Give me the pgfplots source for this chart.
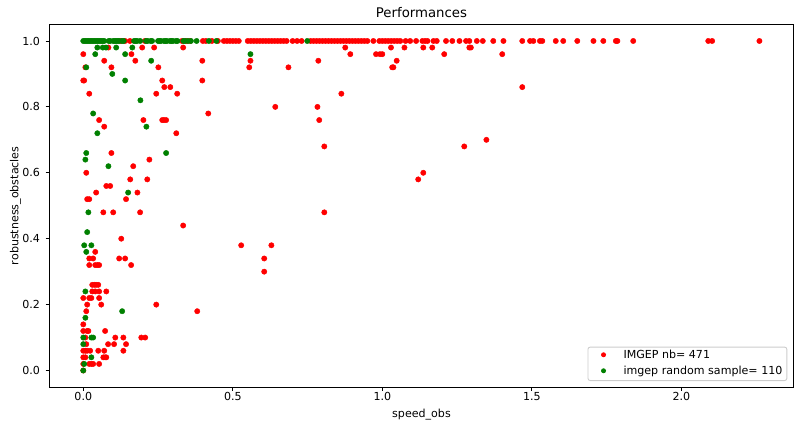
\documentclass[border=0pt]{standalone}
\usepackage{pgfplots}
\pgfplotsset{compat=1.18}
\usepackage{fontspec}
\setmainfont{DejaVu Sans}
\definecolor{mplgreen}{RGB}{0,128,0}
\definecolor{legendedge}{RGB}{204,204,204}

\begin{document}
\begin{tikzpicture}
\begin{axis}[
  scale only axis,
  width=669.6bp, height=326.25bp,
  xmin=-0.113, xmax=2.375, ymin=-0.05, ymax=1.05,
  xtick={0,0.5,1,1.5,2}, xticklabels={0.0,0.5,1.0,1.5,2.0},
  ytick={0,0.2,0.4,0.6,0.8,1}, yticklabels={0.0,0.2,0.4,0.6,0.8,1.0},
  xtick pos=lower, ytick pos=left,
  tick align=outside, major tick length=3.5bp,
  every tick/.style={black, line width=0.8bp},
  axis line style={line width=0.8bp},
  xticklabel style={anchor=base, inner sep=0pt, yshift=-9bp},
  yticklabel style={anchor=east, inner sep=0pt, xshift=-4.9bp},
  title={Performances},
  title style={at={(axis description cs:0.5,1)}, anchor=base, inner sep=0pt, font=\large},
  xlabel={speed\_obs},
  xlabel style={at={(axis description cs:0.5,-0.0855)}, anchor=base, inner sep=0pt},
  ylabel={robustness\_obstacles},
  ylabel style={at={(axis description cs:-0.0417,0.5)}, anchor=base, inner sep=0pt},
  legend style={at={(axis description cs:1,0)}, anchor=south east, xshift=-5.6bp, yshift=5.4bp,
    draw=legendedge, line width=0.8bp, rounded corners=2bp, fill=white, fill opacity=0.8, text opacity=1,
    inner xsep=4bp, inner ysep=3bp, column sep=8bp, row sep=4.7bp,
    cells={anchor=base west},
    nodes={inner sep=0pt, text height=7.5bp, text depth=2.2bp}},
  legend image code/.code={\path[draw=none, fill=none] (0bp,-2.2bp) rectangle (20bp,7.5bp); \fill[fill opacity=1] (10bp,3.6bp) circle (1.8bp);},
]
% IMGEP
\addplot[only marks, mark=*, color=red, mark size=2.4bp, mark options={draw=none}] coordinates {
(0.125,1)(0.14,1)(0.156,1)(0.206,1)(0.33,1)(0.345,1)(0.357,1)(0.40,1)(0.41,1)(0.43,1)
(0.45,1)(0.47,1)(0.48,1)(0.49,1)(0.50,1)(0.51,1)(0.52,1)(0.55,1)(0.56,1)(0.57,1)
(0.58,1)(0.59,1)(0.60,1)(0.61,1)(0.62,1)(0.63,1)(0.64,1)(0.65,1)(0.66,1)(0.67,1)
(0.68,1)(0.70,1)(0.715,1)(0.73,1)(0.76,1)(0.77,1)(0.78,1)(0.79,1)(0.80,1)(0.81,1)
(0.82,1)(0.83,1)(0.84,1)(0.85,1)(0.86,1)(0.87,1)(0.88,1)(0.89,1)(0.90,1)(0.91,1)
(0.92,1)(0.93,1)(0.94,1)(0.95,1)(0.97,1)(0.99,1)(1.00,1)(1.01,1)(1.02,1)(1.03,1)
(1.04,1)(1.05,1)(1.06,1)(1.078,1)(1.093,1)(1.113,1)(1.134,1)(1.143,1)(1.151,1)(1.171,1)
(1.182,1)(1.213,1)(1.234,1)(1.258,1)(1.28,1)(1.291,1)(1.316,1)(1.336,1)(1.371,1)(1.405,1)
(1.468,1)(1.494,1)(1.505,1)(1.527,1)(1.535,1)(1.58,1)(1.605,1)(1.652,1)(1.706,1)(1.739,1)
(1.781,1)(1.786,1)(1.839,1)(2.09,1)(2.103,1)(2.261,1)
(0.084,0.98)(0.197,0.98)(0.237,0.98)(0.334,0.98)(0.876,0.98)(1.029,0.98)(1.074,0.98)(1.137,0.98)(1.167,0.98)(1.291,0.98)(1.296,0.98)
(0.0,0.96)(0.161,0.96)(0.893,0.96)(0.979,0.96)(0.992,0.96)(1.0,0.96)(1.207,0.96)(1.401,0.96)
(0.07,0.94)(0.174,0.94)(0.398,0.94)(0.559,0.94)(0.786,0.94)(1.048,0.94)
(0.007,0.92)(0.094,0.92)(0.251,0.92)(0.555,0.92)(0.686,0.92)(1.033,0.92)(1.037,0.92)
(0.0,0.88)(0.003,0.88)(0.264,0.88)(0.398,0.88)
(0.271,0.86)(0.291,0.86)(1.468,0.86)
(0.02,0.84)(0.244,0.84)(0.314,0.84)(0.863,0.84)
(0.642,0.80)(0.783,0.80)
(0.418,0.78)
(0.053,0.76)(0.201,0.76)(0.264,0.76)(0.270,0.76)(0.277,0.76)(0.789,0.76)
(0.07,0.74)
(0.311,0.72)
(1.348,0.70)
(0.806,0.68)(1.274,0.68)
(0.094,0.66)
(0.221,0.64)
(0.167,0.62)
(0.01,0.60)(1.137,0.60)
(0.157,0.58)(0.214,0.58)(1.120,0.58)
(0.077,0.56)(0.090,0.56)
(0.043,0.54)(0.181,0.54)
(0.013,0.52)(0.020,0.52)(0.143,0.52)
(0.067,0.48)(0.100,0.48)(0.190,0.48)(0.806,0.48)
(0.334,0.44)
(0.127,0.40)
(0.528,0.38)(0.629,0.38)
(0.040,0.36)
(0.020,0.34)(0.033,0.34)(0.120,0.34)(0.140,0.34)(0.605,0.34)
(0.020,0.32)(0.040,0.32)(0.047,0.32)(0.053,0.32)(0.160,0.32)
(0.605,0.30)
(0.030,0.26)(0.037,0.26)(0.043,0.26)(0.050,0.26)
(0.030,0.24)(0.040,0.24)(0.053,0.24)(0.077,0.24)
(0.0,0.22)(0.020,0.22)(0.027,0.22)(0.053,0.22)
(0.013,0.20)(0.060,0.20)(0.244,0.20)
(0.010,0.18)(0.381,0.18)
(0.0,0.14)
(0.0,0.12)(0.013,0.12)(0.017,0.12)(0.073,0.12)
(0.007,0.10)(0.107,0.10)(0.134,0.10)(0.194,0.10)(0.207,0.10)
(0.010,0.08)(0.083,0.08)(0.103,0.08)(0.143,0.08)
(0.0,0.06)(0.007,0.06)(0.013,0.06)(0.023,0.06)(0.050,0.06)(0.070,0.06)(0.134,0.06)
(0.0,0.04)(0.007,0.04)(0.067,0.04)(0.073,0.04)(0.077,0.04)
(0.0,0.02)(0.020,0.02)(0.027,0.02)(0.033,0.02)(0.053,0.02)
(0.0,0.0)
};
\addlegendentry{IMGEP nb= 471}
% random sample
\addplot[only marks, mark=*, color=mplgreen, mark size=2.4bp, mark options={draw=none}] coordinates {
(0,1)(0.005,1)(0.01,1)(0.015,1)(0.02,1)(0.025,1)(0.03,1)(0.035,1)(0.04,1)(0.045,1)
(0.05,1)(0.055,1)(0.06,1)(0.065,1)(0.07,1)(0.085,1)(0.09,1)(0.1,1)(0.105,1)(0.11,1)
(0.115,1)(0.12,1)(0.13,1)(0.135,1)(0.17,1)(0.175,1)(0.18,1)(0.19,1)(0.21,1)(0.215,1)
(0.225,1)(0.23,1)(0.25,1)(0.255,1)(0.26,1)(0.27,1)(0.275,1)(0.28,1)(0.29,1)(0.295,1)
(0.3,1)(0.31,1)(0.315,1)(0.335,1)(0.34,1)(0.35,1)(0.36,1)(0.379,1)(0.42,1)(0.445,1)
(0.749,1)
(0.047,0.98)(0.065,0.98)(0.076,0.98)(0.110,0.98)(0.164,0.98)
(0.040,0.96)(0.140,0.96)(0.559,0.96)
(0.227,0.94)
(0.010,0.92)
(0.097,0.90)
(0.140,0.88)
(0.191,0.82)
(0.033,0.78)
(0.211,0.74)
(0.047,0.72)
(0.010,0.66)(0.277,0.66)
(0.007,0.64)
(0.084,0.62)
(0.150,0.54)
(0.017,0.48)
(0.013,0.42)
(0.003,0.38)(0.027,0.38)
(0.010,0.36)
(0.007,0.24)
(0.130,0.18)
(0.007,0.16)
(0.0,0.10)(0.027,0.10)(0.033,0.10)
(0.0,0.08)
(0.027,0.04)
(0.003,0.02)
(0.0,0.0)
};
\addlegendentry{imgep random sample= 110}
\end{axis}
\pgfresetboundingbox
\useasboundingbox (-44.55bp,-36.9bp) rectangle (675.45bp,348.3bp);
\end{tikzpicture}
\end{document}
